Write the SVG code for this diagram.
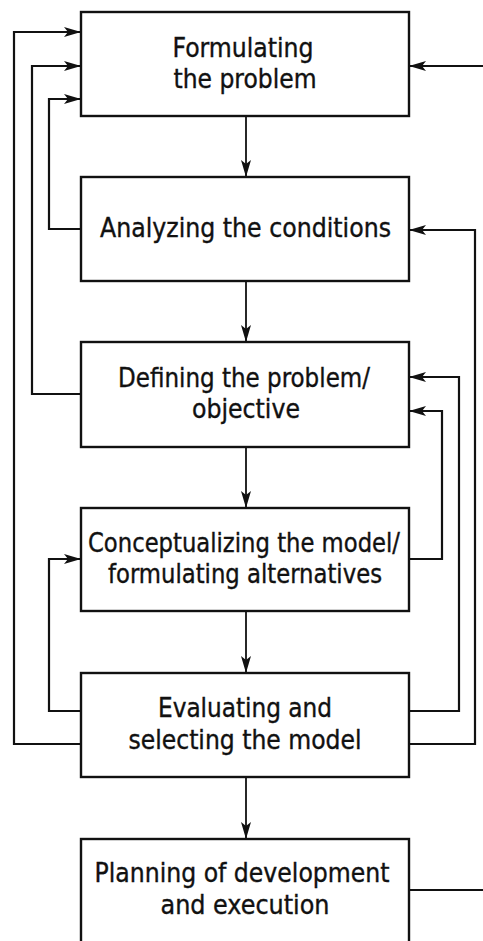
<svg xmlns="http://www.w3.org/2000/svg" width="483" height="941" viewBox="0 0 483 941">
  <style>
    .box { fill: #ffffff; stroke: #111111; stroke-width: 2.4; }
    .lbl { font-family: "DejaVu Sans Condensed", "Liberation Sans", sans-serif; font-size: 26px; fill: #111111; text-anchor: middle; stroke: #111111; stroke-width: 0.35; }
    .wire { fill: none; stroke: #111111; stroke-width: 2.2; }
    .flow { fill: none; stroke: #111111; stroke-width: 1.8; }
  </style>
  <defs>
    <marker id="head" markerUnits="userSpaceOnUse" markerWidth="18" markerHeight="12" refX="17" refY="6" orient="auto">
      <path d="M0,1 L17,6 L0,11 L4,6 Z" fill="#111111"/>
    </marker>
  </defs>
  <rect width="483" height="941" fill="#ffffff"/>

  <g id="connectors">
    <!-- downward flow between the stages -->
    <line class="flow" x1="246" y1="116" x2="246" y2="177" marker-end="url(#head)"/>
    <line class="flow" x1="246" y1="281" x2="246" y2="342" marker-end="url(#head)"/>
    <line class="flow" x1="246" y1="447" x2="246" y2="508" marker-end="url(#head)"/>
    <line class="flow" x1="246" y1="611" x2="246" y2="673" marker-end="url(#head)"/>
    <line class="flow" x1="246" y1="777" x2="246" y2="839" marker-end="url(#head)"/>

    <!-- left feedback loops -->
    <polyline class="wire" points="81,744 14,744 14,32 81,32" marker-end="url(#head)"/>
    <polyline class="wire" points="81,394 32,394 32,66 81,66" marker-end="url(#head)"/>
    <polyline class="wire" points="81,229 49,229 49,99 81,99" marker-end="url(#head)"/>
    <polyline class="wire" points="81,711 49,711 49,559 81,559" marker-end="url(#head)"/>

    <!-- right feedback loops -->
    <polyline class="wire" points="409,744 475,744 475,230 409,230" marker-end="url(#head)"/>
    <polyline class="wire" points="409,711 459,711 459,377 409,377" marker-end="url(#head)"/>
    <polyline class="wire" points="409,559 442,559 442,411 409,411" marker-end="url(#head)"/>

    <!-- return from planning into formulation -->
    <line class="wire" x1="483" y1="66" x2="409" y2="66" marker-end="url(#head)"/>
    <line class="wire" x1="409" y1="890" x2="483" y2="890"/>
  </g>

  <g id="formulating">
    <rect class="box" x="81" y="12" width="328" height="104"/>
    <text class="lbl" x="243" y="57" textLength="141" lengthAdjust="spacingAndGlyphs">Formulating</text>
    <text class="lbl" x="245" y="88" textLength="143" lengthAdjust="spacingAndGlyphs">the problem</text>
  </g>

  <g id="analyzing">
    <rect class="box" x="81" y="177" width="328" height="104"/>
    <text class="lbl" x="245.5" y="237" textLength="291" lengthAdjust="spacingAndGlyphs">Analyzing the conditions</text>
  </g>

  <g id="defining">
    <rect class="box" x="81" y="342" width="328" height="105"/>
    <text class="lbl" x="244" y="387" textLength="252" lengthAdjust="spacingAndGlyphs">Defining the problem/</text>
    <text class="lbl" x="246" y="418" textLength="108" lengthAdjust="spacingAndGlyphs">objective</text>
  </g>

  <g id="conceptualizing">
    <rect class="box" x="81" y="508" width="328" height="103"/>
    <text class="lbl" x="244" y="552" textLength="312" lengthAdjust="spacingAndGlyphs">Conceptualizing the model/</text>
    <text class="lbl" x="245" y="583" textLength="274" lengthAdjust="spacingAndGlyphs">formulating alternatives</text>
  </g>

  <g id="evaluating">
    <rect class="box" x="81" y="673" width="328" height="104"/>
    <text class="lbl" x="245" y="717" textLength="174" lengthAdjust="spacingAndGlyphs">Evaluating and</text>
    <text class="lbl" x="245" y="749" textLength="233" lengthAdjust="spacingAndGlyphs">selecting the model</text>
  </g>

  <g id="planning">
    <rect class="box" x="81" y="839" width="328" height="130"/>
    <text class="lbl" x="242" y="882" textLength="295" lengthAdjust="spacingAndGlyphs">Planning of development</text>
    <text class="lbl" x="245" y="914" textLength="169" lengthAdjust="spacingAndGlyphs">and execution</text>
  </g>
</svg>
